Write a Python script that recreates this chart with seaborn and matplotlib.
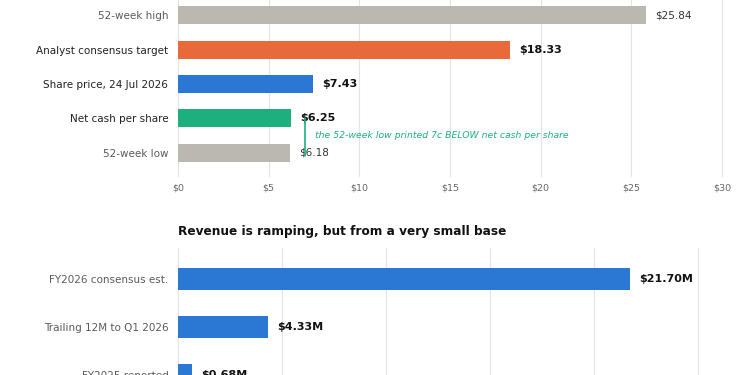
import matplotlib
matplotlib.use("Agg")
import matplotlib.pyplot as plt
import seaborn as sns
import pandas as pd

# ---- data ----
price_labels = ["52-week high", "Analyst consensus target", "Share price, 24 Jul 2026",
                "Net cash per share", "52-week low"]
price_values = [25.84, 18.33, 7.43, 6.25, 6.18]
price_colors = ["#bab8b0", "#e8693a", "#2a78d4", "#1db07e", "#bab8b0"]
price_emph = [False, True, True, True, False]
price_ticks = [0, 5, 10, 15, 20, 25, 30]

rev_labels = ["FY2026 consensus est.", "Trailing 12M to Q1 2026", "FY2025 reported"]
rev_values = [21.70, 4.33, 0.68]
rev_ticks = [0, 5, 10, 15, 20, 25]

note_text = "the 52-week low printed 7c BELOW net cash per share"
rev_title = "Revenue is ramping, but from a very small base"

sns.set_style("white")
plt.rcParams["font.family"] = ["DejaVu Sans"]

W, H = 750, 375
fig = plt.figure(figsize=(7.5, 3.75), dpi=100, facecolor="white")

def px_axes(left, top, right, bottom):
    return fig.add_axes([left / W, 1 - bottom / H, (right - left) / W, (bottom - top) / H])

grid_c = "#e4e4e4"

# ---- top chart ----
ax1 = px_axes(178, -9, 740, 177)
df1 = pd.DataFrame({"label": price_labels, "value": price_values})
sns.barplot(data=df1, x="value", y="label", hue="label", palette=price_colors,
            saturation=1, orient="h", width=0.52, linewidth=0, legend=False,
            ax=ax1, zorder=3)
ax1.set_xlim(0, 31)
ax1.set_ylim(4.7, -0.7)
ax1.set_xticks(price_ticks)
ax1.set_xticklabels([f"${t}" for t in price_ticks])
ax1.set_xlabel("")
ax1.set_ylabel("")
ax1.grid(axis="x", color=grid_c, linewidth=0.8, zorder=0)
ax1.set_axisbelow(True)
for s in ax1.spines.values():
    s.set_visible(False)
ax1.tick_params(axis="x", length=0, pad=5, labelsize=6.8, labelcolor="#666666")
ax1.tick_params(axis="y", length=0, pad=7, labelsize=7.5)
for lab, em in zip(ax1.get_yticklabels(), price_emph):
    lab.set_color("#222222" if em else "#5a5a5a")
for i, (v, em) in enumerate(zip(price_values, price_emph)):
    ax1.annotate(f"${v:.2f}", (v, i), xytext=(6.5, 0), textcoords="offset points",
                 va="center", ha="left", fontsize=8 if em else 7.5,
                 fontweight="bold" if em else "normal",
                 color="#111111" if em else "#333333")
# annotation line and note
ax1.plot([7.0, 7.0], [3.0, 4.1], color="#1db07e", linewidth=1.2, zorder=4)
ax1.text(7.55, 3.5, note_text, color="#1db07e", fontsize=6.7, style="italic",
         va="center", ha="left")

# ---- bottom chart ----
ax2 = px_axes(178, 248, 740, 404)
df2 = pd.DataFrame({"label": rev_labels, "value": rev_values})
sns.barplot(data=df2, x="value", y="label", color="#2a78d4", saturation=1,
            orient="h", width=0.45, linewidth=0, ax=ax2, zorder=3)
ax2.set_xlim(0, 27)
ax2.set_ylim(2.6, -0.65)
ax2.set_xticks(rev_ticks)
ax2.set_xticklabels([])
ax2.set_xlabel("")
ax2.set_ylabel("")
ax2.grid(axis="x", color=grid_c, linewidth=0.8, zorder=0)
ax2.set_axisbelow(True)
for s in ax2.spines.values():
    s.set_visible(False)
ax2.tick_params(axis="x", length=0)
ax2.tick_params(axis="y", length=0, pad=7, labelsize=7.5, labelcolor="#5a5a5a")
for i, v in enumerate(rev_values):
    ax2.annotate(f"${v:.2f}M", (v, i), xytext=(6.5, 0), textcoords="offset points",
                 va="center", ha="left", fontsize=8, fontweight="bold", color="#111111")

fig.text(178 / W, 1 - 232 / H, rev_title, fontsize=8.7, fontweight="bold",
         color="#111111", va="center", ha="left")

fig.savefig("out.png", dpi=100, facecolor="white")
